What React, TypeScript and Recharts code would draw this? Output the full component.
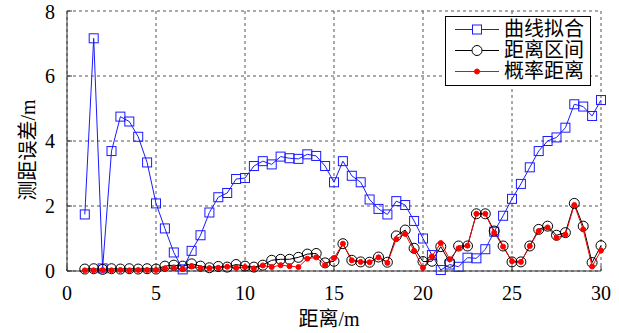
import React from 'react';
import { LineChart, Line, XAxis, YAxis, CartesianGrid, Legend } from 'recharts';

// 距离 (m)
const distance = [
    1, 1.5, 2, 2.5, 3, 3.5, 4, 4.5, 5, 5.5, 6, 6.5, 7, 7.5, 8, 8.5, 9, 9.5, 10, 10.5,
    11, 11.5, 12, 12.5, 13, 13.5, 14, 14.5, 15, 15.5, 16, 16.5, 17, 17.5, 18, 18.5, 19, 19.5, 20, 20.5,
    21, 21.5, 22, 22.5, 23, 23.5, 24, 24.5, 25, 25.5, 26, 26.5, 27, 27.5, 28, 28.5, 29, 29.5, 30,
];

// 曲线拟合
const fitErr = [
    1.74, 7.16, 0.08, 3.69, 4.75, 4.6, 4.13, 3.34, 2.08, 1.31, 0.57, 0.05, 0.62, 1.1, 1.8, 2.27, 2.4, 2.83, 2.86, 3.23,
    3.38, 3.28, 3.52, 3.47, 3.45, 3.59, 3.54, 3.23, 2.73, 3.38, 2.93, 2.73, 2.2, 1.91, 1.74, 2.15, 2.03, 1.54, 1.0, 0.49,
    0.03, 0.2, 0.13, 0.41, 0.39, 0.67, 1.21, 1.7, 2.22, 2.68, 3.19, 3.69, 4.0, 4.11, 4.41, 5.13, 5.06, 4.77, 5.26,
];

// 距离区间
const intervalErr = [
    0.06, 0.07, 0.05, 0.07, 0.06, 0.07, 0.06, 0.07, 0.06, 0.15, 0.18, 0.15, 0.22, 0.15, 0.1, 0.14, 0.12, 0.2, 0.15, 0.12,
    0.18, 0.33, 0.36, 0.36, 0.42, 0.52, 0.54, 0.25, 0.3, 0.84, 0.33, 0.28, 0.27, 0.43, 0.27, 1.08, 1.26, 0.7, 0.29, 0.3,
    0.75, 0.27, 0.77, 0.77, 1.76, 1.76, 1.23, 0.77, 0.28, 0.28, 0.77, 1.28, 1.38, 1.1, 1.18, 2.08, 1.38, 0.26, 0.78,
];

// 概率距离
const probErr = [
    0.02, 0.02, 0.03, 0.02, 0.03, 0.02, 0.03, 0.03, 0.03, 0.08, 0.1, 0.06, 0.15, 0.09, 0.09, 0.1, 0.13, 0.1, 0.12, 0.08,
    0.17, 0.12, 0.18, 0.15, 0.12, 0.38, 0.42, 0.18, 0.4, 0.84, 0.33, 0.28, 0.27, 0.42, 0.25, 0.98, 1.14, 0.62, 0.1, 0.45,
    0.86, 0.36, 0.7, 0.78, 1.76, 1.76, 1.18, 0.75, 0.3, 0.28, 0.77, 1.23, 1.34, 1.02, 1.12, 2.03, 1.28, 0.14, 0.63,
];

const xTicks = [0, 5, 10, 15, 20, 25, 30];
const yTicks = [0, 2, 4, 6, 8];

const FONT = '"Liberation Serif", "Times New Roman", "DejaVu Serif", "Noto Sans CJK SC", serif';
const BLUE = '#1a1aff';
const RED = '#ff0000';

const data = distance.map((d, i) => ({
    d,
    fit: fitErr[i],
    interval: intervalErr[i],
    prob: probErr[i],
}));

const SquareDot = (p: any) => (
    <rect key={`sq-${p.index}`} x={p.cx - 4.5} y={p.cy - 4.5} width={9} height={9} fill="none" stroke={BLUE} strokeWidth={1} />
);

const legendItems = [
    { name: '曲线拟合', color: BLUE, marker: 'square' },
    { name: '距离区间', color: '#000', marker: 'circle' },
    { name: '概率距离', color: RED, marker: 'dot' },
];

const renderLegend = () => (
    <div style={{ border: '1px solid #000', background: '#fff', padding: '2px 6px 3px 9px', fontFamily: FONT, fontSize: 20, lineHeight: '21px' }}>
        {legendItems.map(item => (
            <div key={item.name} style={{ display: 'flex', alignItems: 'center' }}>
                <svg width={44} height={21} style={{ marginRight: 5 }}>
                    <line x1={0} y1={10.5} x2={44} y2={10.5} stroke={item.color} strokeWidth={1} />
                    {item.marker === 'square' && <rect x={17.5} y={6} width={9} height={9} fill="#fff" stroke={item.color} />}
                    {item.marker === 'circle' && <circle cx={22} cy={10.5} r={5} fill="#fff" stroke={item.color} />}
                    {item.marker === 'dot' && <circle cx={22} cy={10.5} r={2.5} fill={item.color} stroke={item.color} />}
                </svg>
                <span>{item.name}</span>
            </div>
        ))}
    </div>
);

const tickStyle = { fill: '#000', fontSize: 20, style: { fontFamily: FONT } };

const App: React.FC = () => {
    return (
        <div style={{ position: 'absolute', left: 0, top: 0, background: '#fff', fontFamily: FONT }}>
            <LineChart width={619} height={333} data={data} margin={{ top: 11, right: 18, bottom: 0, left: 0 }} style={{ fontFamily: FONT }}>
                <CartesianGrid stroke="#555" strokeDasharray="3 3" />
                <XAxis
                    dataKey="d"
                    type="number"
                    domain={[0, 30]}
                    ticks={xTicks}
                    height={62}
                    stroke="#333"
                    tickSize={-5}
                    tickMargin={20}
                    tick={tickStyle}
                    label={{
                        content: () => (
                            <text x={329} y={326} textAnchor="middle" fontSize={20} style={{ fontFamily: FONT }} fill="#000">距离/m</text>
                        ),
                    }}
                />
                <XAxis xAxisId="top" orientation="top" dataKey="d" type="number" domain={[0, 30]} ticks={xTicks} height={0} stroke="#333" tickSize={-5} tickFormatter={() => ''} />
                <YAxis
                    type="number"
                    domain={[0, 8]}
                    ticks={yTicks}
                    width={67}
                    stroke="#333"
                    tickSize={-5}
                    tickMargin={17}
                    tick={tickStyle}
                    label={{
                        content: () => (
                            <text x={28} y={150} transform="rotate(-90 28 150)" textAnchor="middle" dominantBaseline="central" fontSize={20} style={{ fontFamily: FONT }} fill="#000">测距误差/m</text>
                        ),
                    }}
                />
                <YAxis yAxisId="right" orientation="right" type="number" domain={[0, 8]} ticks={yTicks} width={0} stroke="#333" tickSize={-5} tickFormatter={() => ''} />
                <Legend
                    content={renderLegend}
                    layout="horizontal"
                    verticalAlign="middle"
                    align="center"
                    wrapperStyle={{ position: 'absolute', left: 445, top: 16, width: 'auto', bottom: 'auto' }}
                />
                <Line dataKey="fit" name="曲线拟合" stroke={BLUE} strokeWidth={1} dot={SquareDot} isAnimationActive={false} />
                <Line dataKey="interval" name="距离区间" stroke="#000" strokeWidth={1} dot={{ r: 5, fill: 'none', stroke: '#000', strokeWidth: 1 }} isAnimationActive={false} />
                <Line dataKey="prob" name="概率距离" stroke={RED} strokeWidth={1} dot={{ r: 2.5, fill: RED, stroke: RED, strokeWidth: 1 }} isAnimationActive={false} />
            </LineChart>
        </div>
    );
};

export default App;
